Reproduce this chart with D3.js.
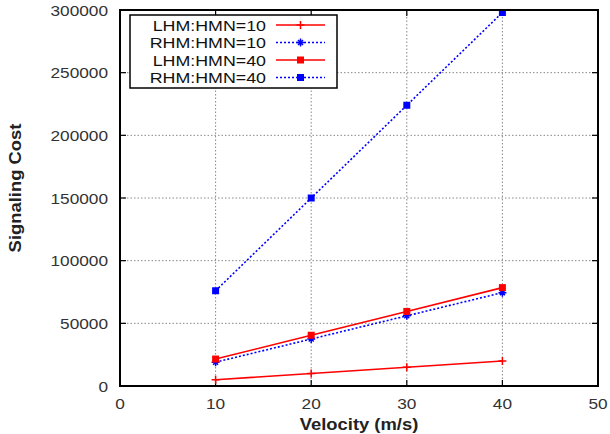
<!DOCTYPE html>
<html><head><meta charset="utf-8">
<script src="https://cdn.jsdelivr.net/npm/d3@7"></script>
<style>body{margin:0;background:#fff}svg{display:block}</style>
</head><body><svg id="c" width="610" height="434"></svg>
<script>
const velocities = [10, 20, 30, 40];
const lhm10 = [5000, 10000, 15000, 20000];
const rhm10 = [19000, 37500, 56000, 74500];
const lhm40 = [21500, 40500, 59500, 78500];
const rhm40 = [76000, 150000, 224000, 298000];
const seriesNames = ["LHM:HMN=10", "RHM:HMN=10", "LHM:HMN=40", "RHM:HMN=40"];
const xTicks = [0, 10, 20, 30, 40, 50];
const yTicks = [0, 50000, 100000, 150000, 200000, 250000, 300000];

const series = [
  {name: seriesNames[0], values: lhm10, color: "#ff0000", dash: null, marker: "plus"},
  {name: seriesNames[1], values: rhm10, color: "#0000ff", dash: "2,2", marker: "star"},
  {name: seriesNames[2], values: lhm40, color: "#ff0000", dash: null, marker: "square"},
  {name: seriesNames[3], values: rhm40, color: "#0000ff", dash: "2,2", marker: "square"}
];

const L = 120, R = 598, T = 10, B = 386;
const SX = 1.15;
const svg = d3.select("#c");
const x = d3.scaleLinear().domain([0, 50]).range([L, R]);
const y = d3.scaleLinear().domain([0, 300000]).range([B, T]);

// grid
svg.append("g").selectAll("line").data(xTicks.slice(1, -1)).join("line")
  .attr("x1", d => x(d)).attr("x2", d => x(d)).attr("y1", T).attr("y2", B)
  .attr("stroke", "#888").attr("stroke-width", 1).attr("stroke-dasharray", "1.5,2");
svg.append("g").selectAll("line").data(yTicks.slice(1, -1)).join("line")
  .attr("x1", L).attr("x2", R).attr("y1", d => y(d)).attr("y2", d => y(d))
  .attr("stroke", "#888").attr("stroke-width", 1).attr("stroke-dasharray", "1.5,2");

// ticks (inside, mirrored)
const tk = svg.append("g").attr("stroke", "#000").attr("stroke-width", 1.2);
xTicks.forEach(d => {
  tk.append("line").attr("x1", x(d)).attr("x2", x(d)).attr("y1", B).attr("y2", B - 6);
  tk.append("line").attr("x1", x(d)).attr("x2", x(d)).attr("y1", T).attr("y2", T + 6);
});
yTicks.forEach(d => {
  tk.append("line").attr("x1", L).attr("x2", L + 6).attr("y1", y(d)).attr("y2", y(d));
  tk.append("line").attr("x1", R).attr("x2", R - 6).attr("y1", y(d)).attr("y2", y(d));
});

// tick labels
const font = "Liberation Sans, Arial, Helvetica, sans-serif";
svg.append("g").selectAll("text").data(xTicks).join("text")
  .attr("transform", d => `translate(${x(d)},${409}) scale(${SX},1)`)
  .attr("text-anchor", "middle").attr("font-family", font).attr("font-size", 15)
  .attr("fill", "#333").text(d => d);
svg.append("g").selectAll("text").data(yTicks).join("text")
  .attr("transform", d => `translate(${108},${y(d) + 5.5}) scale(${SX},1)`)
  .attr("text-anchor", "end").attr("font-family", font).attr("font-size", 15)
  .attr("fill", "#333").text(d => d);

// axis titles
svg.append("text").attr("transform", `translate(${(L + R) / 2},430) scale(${SX},1)`)
  .attr("text-anchor", "middle").attr("font-family", font).attr("font-size", 16)
  .attr("font-weight", "bold").attr("fill", "#222").text("Velocity (m/s)");
svg.append("text").attr("transform", `translate(21,188) rotate(-90) scale(${SX},1)`)
  .attr("text-anchor", "middle").attr("font-family", font).attr("font-size", 16)
  .attr("font-weight", "bold").attr("fill", "#222").text("Signaling Cost");

// markers
function drawMarker(g, type, cx, cy, color) {
  if (type === "square") {
    g.append("rect").attr("x", cx - 3.5).attr("y", cy - 3.5).attr("width", 7).attr("height", 7).attr("fill", color);
  } else if (type === "plus") {
    g.append("path").attr("d", `M${cx - 4},${cy}H${cx + 4}M${cx},${cy - 4}V${cy + 4}`)
      .attr("stroke", color).attr("stroke-width", 1.5).attr("fill", "none");
  } else {
    g.append("path").attr("d", `M${cx - 4},${cy}H${cx + 4}M${cx},${cy - 4}V${cy + 4}M${cx - 2.5},${cy - 2.5}L${cx + 2.5},${cy + 2.5}M${cx - 2.5},${cy + 2.5}L${cx + 2.5},${cy - 2.5}`)
      .attr("stroke", color).attr("stroke-width", 1.5).attr("fill", "none");
  }
}

const line = d3.line().x((d, i) => x(velocities[i])).y(d => y(d));
series.forEach(s => {
  const g = svg.append("g");
  g.append("path").attr("d", line(s.values)).attr("fill", "none")
    .attr("stroke", s.color).attr("stroke-width", 1.6)
    .attr("stroke-dasharray", s.dash);
  s.values.forEach((v, i) => drawMarker(g, s.marker, x(velocities[i]), y(v), s.color));
});

// frame
svg.append("rect").attr("x", L).attr("y", T).attr("width", R - L).attr("height", B - T)
  .attr("fill", "none").attr("stroke", "#000").attr("stroke-width", 2);

// legend
const lg = svg.append("g");
lg.append("rect").attr("x", 130).attr("y", 15).attr("width", 207).attr("height", 73)
  .attr("fill", "#fff").attr("stroke", "#000").attr("stroke-width", 1.5);
series.forEach((s, i) => {
  const cy = 25 + i * 17.5;
  lg.append("text").attr("transform", `translate(266,${cy + 5.5}) scale(${SX},1)`)
    .attr("text-anchor", "end").attr("font-family", font).attr("font-size", 15.5)
    .attr("fill", "#111").text(s.name);
  lg.append("line").attr("x1", 276).attr("x2", 325).attr("y1", cy).attr("y2", cy)
    .attr("stroke", s.color).attr("stroke-width", 1.6).attr("stroke-dasharray", s.dash);
  drawMarker(lg, s.marker, 300.5, cy, s.color);
});
</script></body></html>
